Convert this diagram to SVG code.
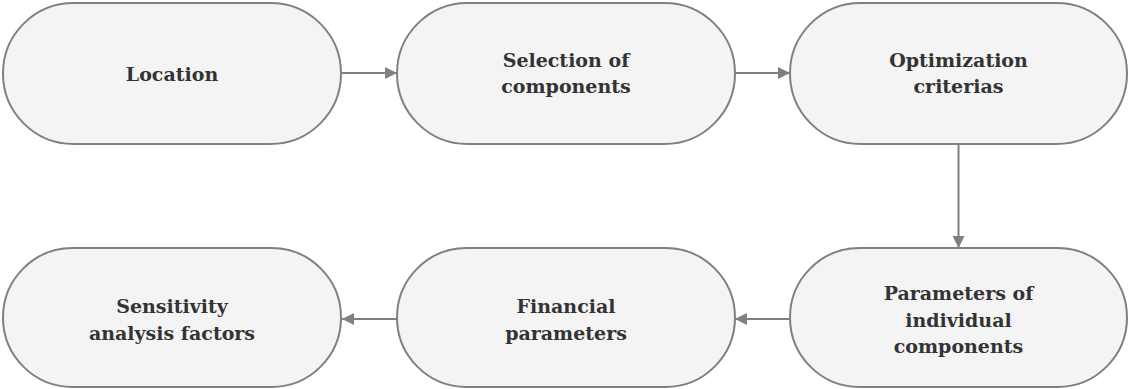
<svg xmlns="http://www.w3.org/2000/svg" width="1129" height="389" viewBox="0 0 1129 389">
<style>
.n{fill:#f4f4f4;stroke:#808080;stroke-width:2}
.t{font-family:'DejaVu Serif',serif;font-weight:bold;font-size:19px;fill:#333;text-anchor:middle}
.c{stroke:#808080;stroke-width:2;fill:none;marker-end:url(#a)}
</style>
<defs>
<marker id="a" viewBox="0 0 12 12" refX="12" refY="6" markerWidth="12" markerHeight="12" markerUnits="userSpaceOnUse" orient="auto">
<path d="M0,0 L12,6 L0,12 Z" fill="#808080"/>
</marker>
</defs>
<rect width="1129" height="389" fill="#fff"/>
<g id="connectors">
<line class="c" x1="342" y1="73" x2="397" y2="73"/>
<line class="c" x1="735" y1="73" x2="790" y2="73"/>
<line class="c" x1="958.5" y1="144" x2="958.5" y2="248"/>
<line class="c" x1="790" y1="319" x2="735" y2="319"/>
<line class="c" x1="397" y1="319" x2="342" y2="319"/>
</g>
<g id="n1"><rect class="n" x="3" y="3" width="338" height="141" rx="70.5"/><text class="t" x="172" y="81">Location</text></g>
<g id="n2"><rect class="n" x="397" y="3" width="338" height="141" rx="70.5"/><text class="t" x="566" y="67">Selection of</text><text class="t" x="566" y="93">components</text></g>
<g id="n3"><rect class="n" x="790" y="3" width="337" height="141" rx="70.5"/><text class="t" x="958.5" y="67">Optimization</text><text class="t" x="958.5" y="93">criterias</text></g>
<g id="n4"><rect class="n" x="790" y="248" width="337" height="139" rx="69.5"/><text class="t" x="958.5" y="300">Parameters of</text><text class="t" x="958.5" y="327">individual</text><text class="t" x="958.5" y="353">components</text></g>
<g id="n5"><rect class="n" x="397" y="248" width="338" height="139" rx="69.5"/><text class="t" x="566" y="313">Financial</text><text class="t" x="566" y="340">parameters</text></g>
<g id="n6"><rect class="n" x="3" y="248" width="338" height="139" rx="69.5"/><text class="t" x="172" y="313">Sensitivity</text><text class="t" x="172" y="340">analysis factors</text></g>
</svg>
